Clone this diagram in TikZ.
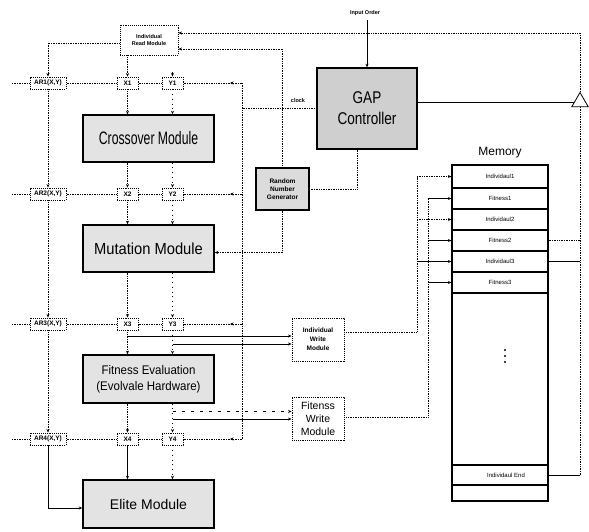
\documentclass[tikz,border=0pt]{standalone}
\usepackage{fontspec}
\setmainfont{Liberation Sans}
\newfontfamily\narrowfont[FakeStretch=0.68]{Liberation Sans}
\newfontfamily\gapfont[FakeStretch=0.8]{Liberation Sans}
\newfontfamily\semifont[FakeStretch=0.92]{Liberation Sans}
\usetikzlibrary{arrows.meta,shapes.geometric,calc}

\tikzset{
  every node/.style={inner sep=0pt, align=center},
  module/.style={draw, line width=1.4pt, fill=gray!22, minimum width=131pt, minimum height=47pt},
  regbox/.style={draw, densely dotted, line width=0.9pt, minimum height=12pt,
                 font=\bfseries\fontsize{6.5}{7}\selectfont},
  dotbox/.style={draw, densely dotted, line width=0.9pt},
  memrow/.style={draw, line width=1.2pt, minimum width=96pt, font=\fontsize{6}{7}\selectfont},
  sig/.style={densely dotted, line width=0.7pt},
  faint/.style={loosely dotted, line width=0.7pt},
  wire/.style={line width=0.7pt},
  arr/.style={-{Stealth[length=3.5pt,width=3pt]}},
  tiny/.style={font=\bfseries\fontsize{5.5}{6.5}\selectfont},
}

\begin{document}
\begin{tikzpicture}[x=1pt,y=-1pt]
\useasboundingbox (0,0) rectangle (589,532);
\fill[white] (0,0) rectangle (589,532);

% ---------- nodes ----------
\node[dotbox, minimum width=58pt, minimum height=30pt, tiny] (read) at (149,40) {Individual\\Read Module};

\foreach \i/\yy in {1/83,2/194,3/324,4/439} {
  \node[regbox, minimum width=36pt] (ar\i) at (48,\yy) {AR\i(X,Y)};
  \node[regbox, minimum width=21pt] (x\i) at (127.5,\yy) {X\i};
  \node[regbox, minimum width=21pt] (y\i) at (172.5,\yy) {Y\i};
}

\node[module, font=\narrowfont\fontsize{18}{20}\selectfont] (cross) at (148.5,138.5) {Crossover Module};
\node[module, font=\semifont\fontsize{16}{18}\selectfont] (mut) at (148.5,248.5) {Mutation Module};
\node[module, minimum height=48pt, font=\semifont\fontsize{12.5}{16}\selectfont] (fit) at (148.5,379) {Fitness Evaluation\\(Evolvale Hardware)};
\node[module, minimum height=48pt, font=\fontsize{14}{16}\selectfont] (elite) at (148.5,504) {Elite Module};

\node[draw, line width=1.4pt, fill=gray!38, minimum width=100pt, minimum height=81pt,
      font=\gapfont\fontsize{17}{21}\selectfont] (gap) at (367,108.5) {GAP\\Controller};
\node[draw, line width=1.4pt, fill=gray!28, minimum width=53pt, minimum height=42pt,
      font=\bfseries\fontsize{6.5}{8}\selectfont] (rng) at (282.5,189) {Random\\Number\\Generator};

\node[dotbox, minimum width=52pt, minimum height=43pt, font=\bfseries\fontsize{6.5}{9}\selectfont] (iwm) at (318,339.5) {Individual\\Write\\Module};
\node[dotbox, minimum width=52pt, minimum height=43pt, font=\fontsize{10.5}{13}\selectfont] (fwm) at (318,418.5) {Fitenss\\Write\\Module};

\node[tiny] (inord) at (365,13) {Input Order};
\node[tiny] (clk) at (298,101) {clock};

\node[draw, regular polygon, regular polygon sides=3, minimum size=19pt, line width=0.8pt, fill=white] (buf) at (580,102) {};

% memory
\node[font=\fontsize{12}{14}\selectfont] (memt) at (500,153) {Memory};
\node[memrow, minimum height=23pt] (m1) at (500,176.5) {Individaul1};
\node[memrow, minimum height=21pt] (m2) at (500,198.5) {Fitness1};
\node[memrow, minimum height=21pt] (m3) at (500,219.5) {Individaul2};
\node[memrow, minimum height=21pt] (m4) at (500,240.5) {Fitness2};
\node[memrow, minimum height=21pt] (m5) at (500,261.5) {Individaul3};
\node[memrow, minimum height=21pt] (m6) at (500,282.5) {Fitness3};
\node[memrow, minimum height=172pt] (mbl) at (500,379) {};
\node[memrow, minimum height=20pt] (mend) at (500,475) {\hspace*{12pt}Individaul End};
\node[memrow, minimum height=16pt] (mlast) at (500,493) {};
\foreach \k in {0,1,2} \fill (505,{350+6*\k}) circle (1.1pt);

% ---------- connectors ----------
% read module to the address and data registers
\draw[sig,arr] ([yshift=-3pt]read.west) -| (ar1.north);
\draw[sig,arr] (read.south -| x1.north) -- (x1.north);
\draw[sig,arr] ([yshift=5pt]y1.north) -- (y1.north);

% address register chain
\draw[sig,arr] (ar1.south) -- (ar2.north);
\draw[sig,arr] (ar2.south) -- (ar3.north);
\draw[sig,arr] (ar3.south) -- (ar4.north);
\draw[wire,arr] (ar4.south) |- ([yshift=-4pt]elite.west);

% X / Y pipeline through the modules
\draw[sig,arr] (x1.south) -- (x1.south |- cross.north);
\draw[faint,arr] (y1.south) -- (y1.south |- cross.north);
\draw[sig,arr] (cross.south -| x2) -- (x2.north);
\draw[faint,arr] (cross.south -| y2) -- (y2.north);
\draw[sig,arr] (x2.south) -- (x2.south |- mut.north);
\draw[faint,arr] (y2.south) -- (y2.south |- mut.north);
\draw[sig,arr] (mut.south -| x3) -- (x3.north);
\draw[faint,arr] (mut.south -| y3) -- (y3.north);
\draw[sig,arr] (x3.south) -- (x3.south |- fit.north);
\draw[faint,arr] (y3.south) -- (y3.south |- fit.north);
\draw[sig,arr] (fit.south -| x4) -- (x4.north);
\draw[faint,arr] (fit.south -| y4) -- (y4.north);
\draw[wire,arr] (x4.south) -- (x4.south |- elite.north);
\draw[faint,arr] (y4.south) -- (y4.south |- elite.north);

% outputs to the write modules
\coordinate (iw1) at ([yshift=3.5pt]iwm.west);
\coordinate (iw2) at ([yshift=-4.5pt]iwm.west);
\draw[wire,arr] (x3 |- iw1) -- (iw1);
\draw[wire,arr] (y3 |- iw2) -- (iw2);
\coordinate (fw1) at ([yshift=7pt]fwm.west);
\coordinate (fw2) at ([yshift=-0.5pt]fwm.west);
\draw[loosely dashed, line width=0.7pt, arr] (y4 |- fw1) -- (fw1);
\draw[wire,arr] (y4 |- fw2) -- (fw2);

% clock bus
\coordinate (bus1) at (242,83);
\coordinate (bus4) at (242,439);
\coordinate (lft) at (12,83);
\draw[sig] (gap.west) -- (gap.west -| bus1);
\draw[sig] (bus1) -- (bus4);
\foreach \i in {1,...,4} {
  \draw[sig] (bus1 |- y\i) -- (y\i.east);
  \draw[sig,arr] (bus1 |- y\i) -- ++(-12,0);
  \draw[sig] (y\i.west) -- (x\i.east);
  \draw[sig] (x\i.west) -- (ar\i.east);
  \draw[sig] (ar\i.west) -- (ar\i.west -| lft);
}

% controller
\draw[wire,arr] ([yshift=-4pt]inord.south -| gap.north) -- (gap.north);
\draw[wire] (gap.east |- buf) -- (buf);
\draw[sig] ([xshift=-10pt]gap.south) |- (rng.east);
\draw[sig,arr] (rng.south) |- ([yshift=-4pt]mut.east);
\draw[sig,arr] (rng.north) |- ([yshift=-9pt]read.east);
\draw[sig,arr] (buf.corner 1) |- ([yshift=7pt]read.east);

% memory write buses
\coordinate (ib) at (417,0);
\coordinate (fb) at (428,0);
\coordinate (iwo) at ([yshift=7.5pt]iwm.east);
\coordinate (fwo) at ([yshift=1.5pt]fwm.east);
\draw[sig] (iwo) -- (iwo -| ib) -- (ib |- m1.west);
\draw[sig,arr] (ib |- m1.west) -- (m1.west);
\draw[sig,arr] (ib |- m3.west) -- (m3.west);
\draw[wire,arr] (ib |- m5.west) -- (m5.west);
\draw[sig] (fwo) -- (fwo -| fb) -- (fb |- m2.west);
\draw[wire,arr] (fb |- m2.west) -- (m2.west);
\draw[wire,arr] (fb |- m4.west) -- (m4.west);
\draw[wire,arr] (fb |- m6.west) -- (m6.west);

% memory read-back to the buffer
\draw[sig] (m4.east) -- (m4.east -| buf.side 2);
\draw[wire] (m5.east) -- (m5.east -| buf.side 2);
\draw[wire] (mend.east) -- (mend.east -| buf.side 2);
\draw[sig] (mend.east -| buf.side 2) -- (buf.side 2);
\end{tikzpicture}
\end{document}
